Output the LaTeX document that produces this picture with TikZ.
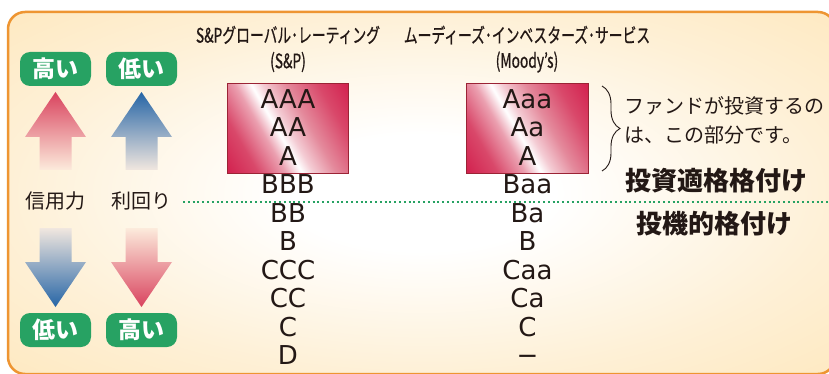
\documentclass[tikz,border=0pt]{standalone}
\usepackage{fontspec}
\setmainfont{DejaVu Sans}
\newfontfamily\jpfont{Noto Sans CJK JP}
\newfontfamily\jpnarrow[FakeStretch=0.69,FakeBold=0.6]{Noto Sans CJK JP}
\usetikzlibrary{positioning,decorations.pathreplacing}

\definecolor{ink}{HTML}{231815}
\definecolor{frameorange}{HTML}{EE9532}
\definecolor{bglight}{HTML}{FEF0D6}
\definecolor{bgcream}{HTML}{FDE0A6}
\definecolor{bgdeep}{HTML}{FCD895}
\definecolor{taggreen}{HTML}{27A263}
\definecolor{boxdeep}{HTML}{D21F4D}
\definecolor{boxmid}{HTML}{D9486A}
\definecolor{boxrose}{HTML}{E48A9C}
\definecolor{boxpink}{HTML}{EBA0B0}
\definecolor{boxblush}{HTML}{F4CCD4}
\definecolor{boxedge}{HTML}{9B2335}
\definecolor{arrowred}{HTML}{D9435E}
\definecolor{fadered}{HTML}{FCEBDC}
\definecolor{arrowblue}{HTML}{2665A6}
\definecolor{midblue}{HTML}{8596BC}
\definecolor{fadeblue}{HTML}{F1E7DF}

\pgfdeclareradialshading{glow}{\pgfpoint{0bp}{0bp}}{color(0bp)=(white); color(8bp)=(white); color(25bp)=(bglight); color(50bp)=(bgcream); color(72bp)=(bgdeep)}
\pgfdeclarehorizontalshading{ratefill}{100bp}{color(0bp)=(boxdeep); color(31bp)=(boxdeep); color(38bp)=(boxmid); color(44bp)=(boxpink); color(47.5bp)=(white); color(50bp)=(boxblush); color(55bp)=(boxrose); color(62bp)=(boxmid); color(69bp)=(boxdeep); color(100bp)=(boxdeep)}

\begin{document}
\begin{tikzpicture}[x=1pt,y=-1pt,
	frame/.style={shade,shading=glow,draw=frameorange,line width=2.5pt,rounded corners=17pt},
	tag/.style={rectangle,rounded corners=10pt,fill=taggreen,text=white,minimum width=71pt,minimum height=34pt,inner sep=0pt,font=\jpfont\bfseries\fontsize{23}{23}\selectfont},
	axislabel/.style={text=ink,inner sep=0pt,font=\jpfont\fontsize{20}{20}\selectfont},
	ratebox/.style={rectangle,minimum width=121pt,minimum height=89pt},
	boxline/.style={draw=boxedge,line width=1pt},
	rating/.style={text=ink,inner sep=0pt,text height=18pt,text depth=1pt,font=\fontsize{26}{26}\selectfont},
	head/.style={text=ink,inner sep=0pt,font=\jpnarrow\fontsize{20}{20}\selectfont},
	note/.style={text=ink,inner sep=0pt,align=left,font=\jpfont\fontsize{20}{29}\selectfont},
	verdict/.style={text=ink,inner sep=0pt,font=\jpfont\bfseries\fontsize{26}{26}\selectfont},
	upred/.style={top color=arrowred,bottom color=fadered},
	downred/.style={top color=fadered,bottom color=arrowred},
	upblue/.style={top color=arrowblue,middle color=midblue,bottom color=fadeblue},
	downblue/.style={top color=fadeblue,middle color=midblue,bottom color=arrowblue},
	gradeline/.style={draw=taggreen,line width=2pt,dash pattern=on 2pt off 2.8pt},
	node distance=28.44pt]
	\useasboundingbox (0,0) rectangle (829,374);
	\fill[white] (0,0) rectangle (829,374);
	\draw[frame] (8,12) rectangle (835,374);

	\node[tag] (credhigh) at (55.5,69) {高い};
	\node[tag] (yieldlow) at (141.5,69) {低い};
	\node[tag] (credlow) at (55.5,330) {低い};
	\node[tag] (yieldhigh) at (141.5,330) {高い};
	\node[axislabel] (credit) at (55,201) {信用力};
	\node[axislabel] (yield) at (141,201) {利回り};

	\shade[upred] (55.5,92) -- ++(30.5,45) -- ++(-14.5,0) -- ++(0,33) -- ++(-32,0) -- ++(0,-33) -- ++(-14.5,0) -- cycle;
	\shade[upblue] (141.5,92) -- ++(30.5,45) -- ++(-14.5,0) -- ++(0,33) -- ++(-32,0) -- ++(0,-33) -- ++(-14.5,0) -- cycle;
	\shade[downblue] (55.5,307) -- ++(30.5,-45) -- ++(-14.5,0) -- ++(0,-34) -- ++(-32,0) -- ++(0,34) -- ++(-14.5,0) -- cycle;
	\shade[downred] (141.5,307) -- ++(30.5,-45) -- ++(-14.5,0) -- ++(0,-34) -- ++(-32,0) -- ++(0,34) -- ++(-14.5,0) -- cycle;

	\node[head] (sphead) at (288,35) {S\&Pグローバル･レーティング};
	\node[head,below of=sphead,node distance=27pt] (spabbr) {(S\&P)};
	\node[head] (mdhead) at (527,35) {ムーディーズ･インベスターズ･サービス};
	\node[head,below of=mdhead,node distance=27pt] (mdabbr) {(Moody’s)};

	\node[ratebox] (spbox) at (288,128.5) {};
	\node[ratebox] (mdbox) at (527.5,128.5) {};
	\foreach \rb in {spbox,mdbox} {
		\begin{scope}
			\clip (\rb.north west) rectangle (\rb.south east);
			\shade[shading=ratefill,transform canvas={shift={(\rb.center)},rotate=30}] (-100,-90) rectangle (100,90);
		\end{scope}
		\draw[boxline] (\rb.north west) rectangle (\rb.south east);
	}

	\node[rating] (sp1) at (288,100) {AAA};
	\node[rating,below of=sp1] (sp2) {AA};
	\node[rating,below of=sp2] (sp3) {A};
	\node[rating,below of=sp3] (sp4) {BBB};
	\node[rating,below of=sp4] (sp5) {BB};
	\node[rating,below of=sp5] (sp6) {B};
	\node[rating,below of=sp6] (sp7) {CCC};
	\node[rating,below of=sp7] (sp8) {CC};
	\node[rating,below of=sp8] (sp9) {C};
	\node[rating,below of=sp9] (sp10) {D};

	\node[rating] (md1) at (527.5,100) {Aaa};
	\node[rating,below of=md1] (md2) {Aa};
	\node[rating,below of=md2] (md3) {A};
	\node[rating,below of=md3] (md4) {Baa};
	\node[rating,below of=md4] (md5) {Ba};
	\node[rating,below of=md5] (md6) {B};
	\node[rating,below of=md6] (md7) {Caa};
	\node[rating,below of=md7] (md8) {Ca};
	\node[rating,below of=md8] (md9) {C};
	\node[rating,below of=md9] (md10) {−};

	\coordinate (bracetop) at (602,86);
	\coordinate (bracebot) at (602,171);
	\draw[ink,line width=0.9pt,decorate,decoration={brace,amplitude=18pt}] (bracetop) -- (bracebot);
	\node[note,anchor=west] (fundnote) at (624,120) {ファンドが投資するの\\は、この部分です。};

	\node[verdict] (investgrade) at (716,181) {投資適格格付け};
	\coordinate (linestart) at (183,202);
	\coordinate (lineend) at (829,202);
	\draw[gradeline] (linestart) -- (lineend);
	\node[verdict] (specgrade) at (714,224) {投機的格付け};
\end{tikzpicture}
\end{document}
